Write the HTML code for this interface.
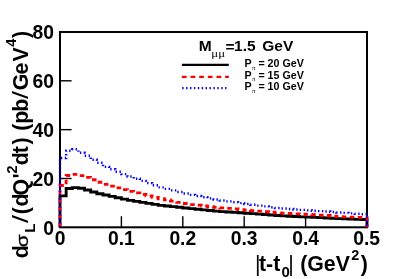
<!DOCTYPE html>
<html><head><meta charset="utf-8"><title>plot</title>
<style>
html,body{margin:0;padding:0;background:#fff;}
svg{display:block;}
text{font-family:"Liberation Sans",sans-serif;font-weight:bold;fill:#000;}
.n{font-weight:normal;}
.sy{font-family:"Liberation Serif",serif;font-weight:normal;}
</style></head><body>
<svg width="399" height="279" viewBox="0 0 399 279">
<rect x="0" y="0" width="399" height="279" fill="#fff"/>
<!-- frame -->
<rect x="60" y="32" width="307" height="195.3" fill="none" stroke="#000" stroke-width="2"/>
<!-- ticks -->
<g stroke="#000" stroke-width="1.4">
<line x1="121.4" y1="227.3" x2="121.4" y2="216.2"/>
<line x1="182.8" y1="227.3" x2="182.8" y2="216.2"/>
<line x1="244.2" y1="227.3" x2="244.2" y2="216.2"/>
<line x1="305.6" y1="227.3" x2="305.6" y2="216.2"/>
<line x1="60" y1="178.5" x2="71.6" y2="178.5"/>
<line x1="60" y1="129.65" x2="71.6" y2="129.65"/>
<line x1="60" y1="80.8" x2="71.6" y2="80.8"/>
</g>
<!-- curves -->
<path d="M60.00,227.30V195.90H66.14V188.50H72.28V187.60H78.42V188.23H84.56V189.94H90.70V191.97H96.84V193.68H102.98V195.01H109.12V196.37H115.26V197.72H121.40V199.08H127.54V200.40H133.68V201.40H139.82V202.41H145.96V203.41H152.10V204.41H158.24V205.34H164.38V205.99H170.52V206.65H176.66V207.30H182.80V207.96H188.94V208.61H195.08V209.24H201.22V209.88H207.36V210.51H213.50V211.15H219.64V211.66H225.78V212.03H231.92V212.40H238.06V212.78H244.20V213.18H250.34V213.63H256.48V214.10H262.62V214.57H268.76V215.04H274.90V215.51H281.04V215.89H287.18V216.21H293.32V216.54H299.46V216.85H305.60V217.14H311.74V217.39H317.88V217.64H324.02V217.93H330.16V218.29H336.30V218.66H342.44V218.89H348.58V219.11H354.72V219.33H360.86V219.54H367.00V227.30" fill="none" stroke="#000" stroke-width="2.9" stroke-linejoin="miter"/>
<path d="M60.00,227.30V185.50H66.14V175.50H72.28V174.40H78.42V175.56H84.56V177.30H90.70V179.75H96.84V182.27H102.98V184.29H109.12V186.08H115.26V187.88H121.40V189.68H127.54V191.45H133.68V192.92H139.82V194.39H145.96V195.87H152.10V197.34H158.24V198.75H164.38V199.94H170.52V201.13H176.66V202.31H182.80V203.50H188.94V204.53H195.08V205.22H201.22V205.92H207.36V206.62H213.50V207.31H219.64V207.93H225.78V208.47H231.92V209.00H238.06V209.54H244.20V210.11H250.34V210.66H256.48V211.19H262.62V211.73H268.76V212.26H274.90V212.79H281.04V213.19H287.18V213.51H293.32V213.84H299.46V214.15H305.60V214.44H311.74V214.76H317.88V215.08H324.02V215.50H330.16V216.07H336.30V216.64H342.44V216.92H348.58V217.17H354.72V217.42H360.86V217.67H367.00V227.30" fill="none" stroke="#ff0000" stroke-width="2.8" stroke-dasharray="4.6 3.6"/>
<path d="M60.00,227.30V158.00H66.14V150.70H72.28V149.30H78.42V152.82H84.56V155.78H90.70V159.80H96.84V162.76H102.98V166.92H109.12V169.32H115.26V171.73H121.40V174.13H127.54V176.52H133.68V178.71H139.82V180.90H145.96V183.09H152.10V185.28H158.24V187.33H164.38V188.86H170.52V190.40H176.66V191.93H182.80V193.47H188.94V194.88H195.08V196.05H201.22V197.22H207.36V198.38H213.50V199.55H219.64V200.57H225.78V201.41H231.92V202.25H238.06V203.10H244.20V203.98H250.34V204.81H256.48V205.61H262.62V206.41H268.76V207.20H274.90V208.00H281.04V208.57H287.18V209.02H293.32V209.47H299.46V209.92H305.60V210.38H311.74V210.75H317.88V211.10H324.02V211.50H330.16V211.97H336.30V212.45H342.44V212.91H348.58V213.36H354.72V213.82H360.86V214.27H367.00V227.30" fill="none" stroke="#0000ff" stroke-width="2.4" stroke-dasharray="1.4 2.5"/>
<!-- legend lines -->
<line x1="181.9" y1="64.9" x2="228.8" y2="64.9" stroke="#000" stroke-width="2.3"/>
<line x1="181.9" y1="76.8" x2="228.8" y2="76.8" stroke="#ff0000" stroke-width="2.3" stroke-dasharray="4.7 3.95"/>
<line x1="182.2" y1="88.1" x2="228.8" y2="88.1" stroke="#0000ff" stroke-width="2.3" stroke-dasharray="1.4 2.5"/>
<g style="filter:grayscale(1)">
<!-- x labels -->
<g font-size="19.3" text-anchor="middle">
<text x="60" y="244.9">0</text>
<text x="121.4" y="244.9">0.1</text>
<text x="182.8" y="244.9">0.2</text>
<text x="244.2" y="244.9">0.3</text>
<text x="305.6" y="244.9">0.4</text>
<text x="366.6" y="244.9">0.5</text>
</g>
<g font-size="19.3" text-anchor="end">
<text x="53.9" y="234.9">0</text>
<text x="53.9" y="185.5">20</text>
<text x="53.9" y="136.65">40</text>
<text x="53.9" y="87.8">60</text>
<text x="53.9" y="39">80</text>
</g>
<!-- x title -->
<text y="270.8" font-size="21.3"><tspan x="255" class="n">|</tspan><tspan x="259">t-t</tspan><tspan x="281.4" font-size="15" dy="6.2">0</tspan><tspan x="288.2" dy="-6.2" class="n">|</tspan><tspan x="300.2">(GeV</tspan><tspan x="351.2" font-size="14.5" dy="-11">2</tspan><tspan x="360.8" dy="11">)</tspan></text>
<!-- y title -->
<g transform="translate(27.5,279) rotate(-90)" font-size="21.4">
<text x="20.67" y="0">d</text>
<text transform="translate(31.75,0.3) scale(1.24,1)" x="0" y="0" font-size="16.8" class="n" stroke="#000" stroke-width="0.35">σ</text>
<text x="46.3" y="7.35" font-size="15.2">L</text>
<text transform="translate(55.9,0) scale(1.36,1)" x="0" y="0" class="n">/</text>
<text x="64.7" y="0">(</text>
<text x="72.5" y="0">d</text>
<text x="83.5" y="0">Q</text>
<text x="100.5" y="0">'</text>
<text x="105.5" y="-10.85" font-size="14.5">2</text>
<text x="113.87" y="0">d</text>
<text x="125.79" y="0">t</text>
<text x="134.53" y="0">)</text>
<text x="148.28" y="0">(</text>
<text x="155.34" y="0">p</text>
<text x="167.34" y="0">b</text>
<text transform="translate(180.05,0) scale(1.36,1)" x="0" y="0" class="n">/</text>
<text x="188.67" y="0">G</text>
<text x="204.52" y="0">e</text>
<text x="217.40" y="0">V</text>
<text x="232.33" y="-11.65" font-size="14.5">4</text>
<text x="241.13" y="0">)</text>
</g>
<!-- legend -->
<text y="51.1" font-size="15.5"><tspan x="198.8">M</tspan><tspan x="225.5" dy="0.5">=</tspan><tspan x="234.1" dy="-0.5">1.5</tspan><tspan x="262.3">GeV</tspan></text>
<text transform="translate(211.3,56.9) scale(1.35,1)" x="0" y="0" class="sy" font-size="9.5">μμ</text>
<g font-size="10.7">
<text y="67.1"><tspan x="244.6">P</tspan><tspan class="sy" font-size="7" x="251.9" dy="2.7">π</tspan><tspan x="258.4" dy="-2.7">= 20 GeV</tspan></text>
<text y="78.5"><tspan x="244.6">P</tspan><tspan class="sy" font-size="7" x="251.9" dy="2.7">π</tspan><tspan x="258.4" dy="-2.7">= 15 GeV</tspan></text>
<text y="89.9"><tspan x="244.6">P</tspan><tspan class="sy" font-size="7" x="251.9" dy="2.7">π</tspan><tspan x="258.4" dy="-2.7">= 10 GeV</tspan></text>
</g>
</g>
</svg>
</body></html>
